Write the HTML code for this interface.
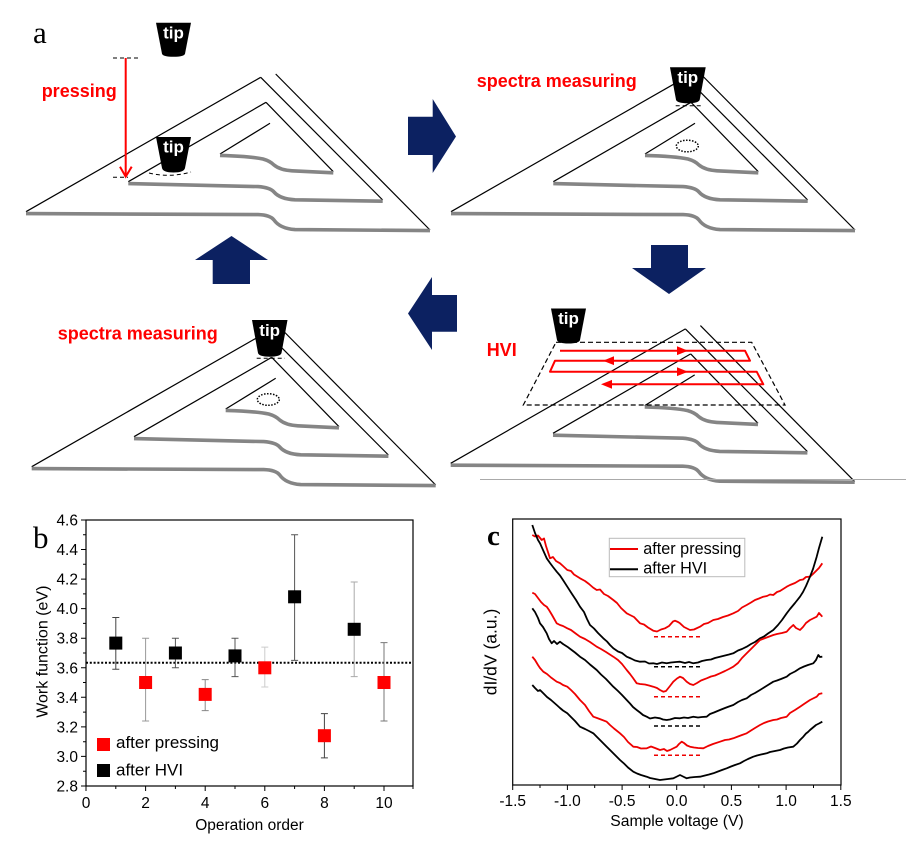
<!DOCTYPE html>
<html><head><meta charset="utf-8"><style>
html,body{margin:0;padding:0;background:#fff;}
svg{display:block;}
text{font-family:"Liberation Sans",Arial,sans-serif;}
.serif{font-family:"Liberation Serif","Times New Roman",serif;}
</style></head><body>
<svg width="906" height="848" viewBox="0 0 906 848" xmlns="http://www.w3.org/2000/svg">
<defs>
<g id="tri">
  <g fill="none" stroke="#000" stroke-width="1.2">
    <path d="M26,211.7 L260.7,77.3"/>
    <path d="M260.7,77.3 L382.7,200"/>
    <path d="M275.7,74 L430,230"/>
    <path d="M128.3,181.7 L266,102.3"/>
    <path d="M266,102.3 L333.3,171.7"/>
    <path d="M220,154 L270,123.3"/>
  </g>
  <g fill="none" stroke="#858585" stroke-width="3.6">
    <path d="M26,213.6 L258,214.6 Q270,215 274,220 Q280,228.5 295,229.6 L430,230.6"/>
    <path d="M128.3,183.6 L258,186.6 Q270,187.5 274,192 Q280,199 295,199.8 L382.7,201.2"/>
    <path d="M220,155.4 Q250,156.2 263,159 Q270,161 274,165 Q280,170 292,170.8 L333.3,172.8"/>
  </g>
</g>
</defs>

<!-- ============ PANEL A ============ -->
<text x="33" y="43" class="serif" font-size="31">a</text>

<!-- panel 1 -->
<use href="#tri"/>
<path d="M156,22.7 L191,22.7 L185,53.7 Q184,56.7 173.5,56.7 Q163,56.7 162,53.7 Z" fill="#000"/>
<text x="173.5" y="38.3" font-size="17" font-weight="bold" fill="#fff" text-anchor="middle">tip</text>
<path d="M113,58 L140,58" stroke="#000" stroke-width="1" stroke-dasharray="4,3"/>
<path d="M125.7,58 L125.7,175" stroke="#f00" stroke-width="2"/>
<path d="M120,166.7 L125.7,176.7 L131.7,166.7" stroke="#f00" stroke-width="2" fill="none"/>
<text x="41.7" y="97" font-size="18" font-weight="bold" fill="#f00">pressing</text>
<path d="M113,177.3 L128,177.3" stroke="#000" stroke-width="1" stroke-dasharray="4,3"/>
<path d="M156,137 L191,137 L185,168 Q184,172.5 173.5,172.5 Q163,172.5 162,168 Z" fill="#000"/>
<text x="173.5" y="152.5" font-size="17" font-weight="bold" fill="#fff" text-anchor="middle">tip</text>
<path d="M149,173 Q170,178 191,172" stroke="#000" stroke-width="1" fill="none" stroke-dasharray="4,3"/>

<!-- arrows -->
<g fill="#0c2161">
  <polygon points="408,116.7 432.7,116.7 432.7,99 456,136.5 432.7,173 432.7,155 408,155"/>
  <polygon points="651,245 688,245 688,268 706,268 669,294 632,268 651,268"/>
  <polygon points="457,295 432,295 432,277 408,313.5 432,350 432,331.7 457,331.7"/>
  <polygon points="231.5,236 268,260 250,260 250,284 212.7,284 212.7,260 195,260"/>
</g>

<!-- panel 2 -->
<use href="#tri" transform="translate(425,0)"/>
<path d="M670,67.3 L705.7,67.3 L699.7,99.8 Q698.7,103.3 687.8,103.3 Q677,103.3 676,99.8 Z" fill="#000"/>
<text x="687.8" y="83" font-size="17" font-weight="bold" fill="#fff" text-anchor="middle">tip</text>
<path d="M675.7,105.7 L703,105.7" stroke="#000" stroke-width="1" stroke-dasharray="4,3"/>
<ellipse cx="687.3" cy="146" rx="11" ry="5.8" fill="none" stroke="#000" stroke-width="1.5" stroke-dasharray="1.5,1.5"/>
<text x="476.7" y="87" font-size="18" font-weight="bold" fill="#f00">spectra measuring</text>

<!-- panel 3 -->
<use href="#tri" transform="translate(5.7,255)"/>
<path d="M252,320 L287.5,320 L281.5,353 Q280.5,356.7 269.7,356.7 Q259,356.7 258,353 Z" fill="#000"/>
<text x="269.7" y="335.8" font-size="17" font-weight="bold" fill="#fff" text-anchor="middle">tip</text>
<path d="M256.7,358.3 L285,358.3" stroke="#000" stroke-width="1" stroke-dasharray="4,3"/>
<ellipse cx="268.3" cy="399.5" rx="11" ry="5.8" fill="none" stroke="#000" stroke-width="1.5" stroke-dasharray="1.5,1.5"/>
<text x="57.7" y="339.5" font-size="18" font-weight="bold" fill="#f00">spectra measuring</text>

<!-- panel 4 -->
<use href="#tri" transform="translate(424.7,251.6)"/>
<path d="M480,479.5 L906,479.5" stroke="#aaa" stroke-width="1"/>
<polygon points="556,342.3 751.7,342.3 785,405 523.3,405" fill="none" stroke="#000" stroke-width="1.2" stroke-dasharray="5,3"/>
<path d="M551,308.5 L586,308.5 L580,340 Q579,343.5 568.5,343.5 Q558,343.5 557,340 Z" fill="#000"/>
<text x="568.5" y="324" font-size="17" font-weight="bold" fill="#fff" text-anchor="middle">tip</text>
<text x="486.7" y="356" font-size="18" font-weight="bold" fill="#f00">HVI</text>
<path d="M560,350.7 L745,350.7 L750,360.7 L555,360.7 L550,371.7 L756.7,371.7 L763.3,384.3 L605,384.3" fill="none" stroke="#f00" stroke-width="2" stroke-linejoin="round"/>
<g fill="#f00">
  <polygon points="677,346.3 688,350.7 677,355.1"/>
  <polygon points="614,356.3 603,360.7 614,365.1"/>
  <polygon points="677,367.3 688,371.7 677,376.1"/>
  <polygon points="612,379.9 601,384.3 612,388.7"/>
</g>

<!-- ============ PANEL B ============ -->
<text x="33" y="548" class="serif" font-size="31">b</text>
<rect x="86" y="520" width="327" height="266" fill="none" stroke="#000" stroke-width="1.2"/>
<g stroke="#000" stroke-width="1">
  <!-- y major ticks -->
  <path d="M81,786H86 M81,756.4H86 M81,726.9H86 M81,697.3H86 M81,667.8H86 M81,638.2H86 M81,608.6H86 M81,579.1H86 M81,549.5H86 M81,520H86"/>
  <!-- y minor -->
  <path d="M83,771.2H86 M83,741.7H86 M83,712.1H86 M83,682.5H86 M83,653H86 M83,623.4H86 M83,593.9H86 M83,564.3H86 M83,534.8H86"/>
  <!-- x major -->
  <path d="M86,786V791 M145.6,786V791 M205.2,786V791 M264.8,786V791 M324.4,786V791 M384,786V791"/>
  <path d="M115.8,786V789 M175.4,786V789 M235,786V789 M294.6,786V789 M354.2,786V789 M413,786V789"/>
</g>
<g font-size="15.5" text-anchor="end" fill="#000">
  <text x="78" y="791.5">2.8</text>
  <text x="78" y="761.9">3.0</text>
  <text x="78" y="732.4">3.2</text>
  <text x="78" y="702.8">3.4</text>
  <text x="78" y="673.3">3.6</text>
  <text x="78" y="643.7">3.8</text>
  <text x="78" y="614.1">4.0</text>
  <text x="78" y="584.6">4.2</text>
  <text x="78" y="555">4.4</text>
  <text x="78" y="525.5">4.6</text>
</g>
<g font-size="15.5" text-anchor="middle" fill="#000">
  <text x="86" y="808">0</text>
  <text x="145.6" y="808">2</text>
  <text x="205.2" y="808">4</text>
  <text x="264.8" y="808">6</text>
  <text x="324.4" y="808">8</text>
  <text x="384" y="808">10</text>
</g>
<text x="249.5" y="830" font-size="15.5" text-anchor="middle">Operation order</text>
<text transform="translate(47.5,651.7) rotate(-90)" font-size="16" text-anchor="middle">Work function (eV)</text>

<!-- dotted reference -->
<path d="M86,662.7 H413" stroke="#000" stroke-width="2" stroke-dasharray="2,1.8"/>

<!-- error bars -->
<g stroke-width="1" fill="none">
  <path stroke="#444" d="M115.8,617.5V669.3 M112.3,617.5H119.3 M112.3,669.3H119.3"/>
  <path stroke="#999" d="M145.6,638.2V721 M142.1,638.2H149.1 M142.1,721H149.1"/>
  <path stroke="#555" d="M175.4,638.2V667.8 M171.9,638.2H178.9 M171.9,667.8H178.9"/>
  <path stroke="#888" d="M205.2,679.6V710.6 M201.7,679.6H208.7 M201.7,710.6H208.7"/>
  <path stroke="#555" d="M235,638.2V676.6 M231.5,638.2H238.5 M231.5,676.6H238.5"/>
  <path stroke="#ccc" d="M264.8,647.1V687 M261.3,647.1H268.3 M261.3,687H268.3"/>
  <path stroke="#555" d="M294.6,534.7V660.4 M291.1,534.7H298.1 M291.1,660.4H298.1"/>
  <path stroke="#444" d="M324.4,713.6V757.9 M320.9,713.6H327.9 M320.9,757.9H327.9"/>
  <path stroke="#aaa" d="M354.2,582V676.6 M350.7,582H357.7 M350.7,676.6H357.7"/>
  <path stroke="#777" d="M384,642.6V721 M380.5,642.6H387.5 M380.5,721H387.5"/>
</g>
<!-- markers -->
<g>
  <rect x="109.3" y="636.6" width="13" height="13" fill="#000"/>
  <rect x="139.1" y="676" width="13" height="13" fill="#f00"/>
  <rect x="168.9" y="646.5" width="13" height="13" fill="#000"/>
  <rect x="198.7" y="687.9" width="13" height="13" fill="#f00"/>
  <rect x="228.5" y="649.4" width="13" height="13" fill="#000"/>
  <rect x="258.3" y="661.3" width="13" height="13" fill="#f00"/>
  <rect x="288.1" y="590.3" width="13" height="13" fill="#000"/>
  <rect x="317.9" y="729.2" width="13" height="13" fill="#f00"/>
  <rect x="347.7" y="622.8" width="13" height="13" fill="#000"/>
  <rect x="377.5" y="676" width="13" height="13" fill="#f00"/>
</g>
<!-- legend b -->
<rect x="97" y="738" width="13" height="13" fill="#f00"/>
<text x="116" y="748" font-size="17">after pressing</text>
<rect x="97" y="764" width="13" height="13" fill="#000"/>
<text x="116" y="775.5" font-size="17">after HVI</text>

<!-- ============ PANEL C ============ -->
<text x="487" y="545" class="serif" font-size="29" font-weight="bold">c</text>
<rect x="512.7" y="519" width="328.3" height="266" fill="none" stroke="#000" stroke-width="1.2"/>
<g stroke="#000" stroke-width="1">
  <path d="M512.7,785V790 M567.4,785V790 M622.1,785V790 M676.7,785V790 M731.4,785V790 M786.1,785V790 M840.8,785V790"/>
  <path d="M540,785V788 M594.7,785V788 M649.4,785V788 M704.1,785V788 M758.8,785V788 M813.5,785V788"/>
</g>
<g font-size="15.5" text-anchor="middle">
  <text x="512.7" y="806">-1.5</text>
  <text x="567.4" y="806">-1.0</text>
  <text x="622.1" y="806">-0.5</text>
  <text x="676.7" y="806">0.0</text>
  <text x="731.4" y="806">0.5</text>
  <text x="786.1" y="806">1.0</text>
  <text x="840.8" y="806">1.5</text>
</g>
<text x="677" y="826" font-size="15.7" text-anchor="middle">Sample voltage (V)</text>
<text transform="translate(496.5,652) rotate(-90)" font-size="17.5" text-anchor="middle">dI/dV (a.u.)</text>

<g fill="none" stroke-width="1.8" stroke-linejoin="round">
<polyline stroke="#e00" points="532.3,535 535,536.5 538,535.5 541.7,540 544,538.5 546,546 550,558.3 553,557 556,561 560,563.3 563,566 567.3,570 571,571 574,574.5 580,578.3 585,581 589,584 593,587.5 596.7,590 600,589.5 604,594 608,596 613.3,600 617,603 621,608 626.7,613.3 630,615 634,617 640,623.3 644,624.5 648,627.5 653.3,630.7 657,631.5 661,629.5 665,628.3 669,626 673,621.5 675,620.7 678,622 680,623.3 684,627 690,630 694,629.5 700,626.7 704,624 708,623 713.3,620 718,619 723,617 728,615.5 733.3,613.3 738,611 742,607.5 746.7,605 751,602.5 755,600 759,598.5 763.3,596.7 767,596 770,594.5 773.3,595 777,592 780,591 786.7,586.7 790,585 795,583 800,580 803,579.5 806,577 810,576.7 813,574 816,571 819,568 822.3,563.3"/>
<polyline stroke="#000" points="532.3,525 535,533 538,540 540,543.3 543,550 546.7,558.3 550,563 553,567 556.7,571.7 560,575.5 563,580 567.3,586.7 572,594 576,600 580,606.7 584,612 587,619 590,625 594,628.5 598,633 603.3,638.3 607,641.5 610,645 613.3,648.3 618,651.5 622,653 626.7,656.7 631,658.5 635,660.5 640,661.7 645,661.5 649,663.5 653.3,663.3 657,664 662,662.5 666.7,663.3 671,662.5 676,662 680,661.7 685,663 689,662 693.3,663.3 698,662.5 702,661 706.7,660 711,659.5 715,658 720,656.7 725,655.5 729,654.5 733.3,653.3 738,650.5 742,649 746.7,646.7 751,644 755,642 760,638.3 764,636.5 768,633.5 773.3,630 778,625 782,620 786.7,613.3 790,609 795,603 800,596.7 803,592 806,586 810,576.7 813,569 816.7,556.7 819,548 822.3,536.7"/>
<polyline stroke="#e00" points="532.3,592.7 535,594 538,598 541,602 544,605 546.7,606.7 549,610 552,615 556.7,623.3 560,625 563,626 567.3,628.3 571,630 575,633 580,636.7 585,639 590,642 596.7,646.7 601,649 606,652 613.3,656.7 618,660 622,664 626.7,670 630,674 633,678 636.7,683.3 640,684 645,684.5 649,685.5 653.3,686.7 657,688 660,690 663.3,691.7 666,691 670,686 673.3,681.7 677,678.5 680,676.7 683,678 686.7,681.7 690,684 693.3,685 697,683 701,680.5 706.7,678.3 711,676.5 715,675.5 720,673.3 725,671 729,669 733.3,666.7 738,663 742,658 746.7,653.3 751,649 755,645 760,640 764,638.5 768,637 773.3,635 777,634 782,633 786.7,631.7 790,628 793.3,625 796,628 800,630 803,627 806,623 810,620 813,618.5 816.7,616.7 819,613 822.3,616.7"/>
<polyline stroke="#000" points="532.3,608.3 535,612 538,618 540,623.3 543,627 546.7,633.3 549,639 551.7,643.3 554,641 557,644 560,641.7 563,644 567.3,646.7 571,649.5 575,652.5 580,656.7 585,660 590,664.5 596.7,670 601,674.5 606,679 613.3,686.7 618,691 622,695 626.7,700 630,703.5 633,707 636.7,710 640,712.5 643,715 646.7,716.7 650,718.5 655,717.5 660,718.3 663,719.5 666.7,720 670,719.5 675,718 680,718.3 684,717.5 688,718 693.3,716.7 698,717.5 702,717 706.7,716.7 710,714 714,712.5 720,710 725,708 729,706.5 733.3,705 738,702 742,700 746.7,698.3 751,695 755,693 760,690 764,687.5 768,685 773.3,681.7 777,680.5 781,679 786.7,676.7 790,674 795,671.5 800,668.3 804,666.5 808,665 813.3,663.3 816,660 818.3,655 820,657 822.3,656.7"/>
<polyline stroke="#e00" points="532.3,656.7 535,660 538,665 540,668 543.3,671.7 547,674 551,677.5 556.7,681.7 560,683 563,685 567.3,686.7 571,690 575,694 580,700 585,705 589,711 593.3,716.7 597,718 601,719.5 606.7,721.7 610,725 614,728.5 620,733.3 624,737 628,742 633.3,746.7 637,747 641,748.5 646.7,748.3 651,746.5 655,748 660,750 664,749 667,751 670,750 673,748.5 676.7,746.7 679,744 681.7,741.7 684,743 687,745.5 690,746.7 694,747.5 698,748 703.3,748.3 708,746 713,744 720,741.7 725,740 729,739.5 733.3,738.3 738,736.5 742,735 746.7,733.3 751,730.5 755,728 760,725 764,723 768,721.5 773.3,720 777,719.5 781,718 786.7,716.7 790,713 795,710 800,706.7 804,704 807,702 810,700 813,698.5 816.7,696.7 819,694 822.3,693.3"/>
<polyline stroke="#000" points="532.3,685 535,688 538,691 540,690 543.3,693.3 547,697 551,700 556.7,705 560,708 563,710.5 567.3,713.3 571,717 575,721 580,726.7 585,729 589,731 593.3,733.3 597,737 601,741 606.7,746.7 610,750 614,754 620,760 624,763.5 628,767.5 633.3,771.7 637,773.5 641,775 646.7,776.7 650,778 655,779 660,780 664,779.5 668,779 673.3,778.3 677,776.5 680,775 683,776.5 686.7,778.3 690,777.5 695,777 700,776.7 705,775.5 709,774.5 713.3,773.3 718,771.5 722,770 726.7,768.3 731,766.5 735,765 740,763.3 744,761 748,759 753.3,756.7 757,755.5 761,754.5 766.7,753.3 770,752 775,751 780,750 784,748.5 788,747.5 793.3,746.7 797,743.5 800,740 803.3,736.7 806,733.5 808,732 810,730 813,727.5 816,725 819,723.5 822.3,721.7"/>
</g>
<!-- dashed baselines -->
<g stroke-width="1.5" stroke-dasharray="4,3">
  <path d="M654,636.7H702" stroke="#e00"/>
  <path d="M654,666.7H702" stroke="#000"/>
  <path d="M654,696.7H702" stroke="#e00"/>
  <path d="M654,726H702" stroke="#000"/>
  <path d="M654,755.3H702" stroke="#e00"/>
</g>
<!-- legend c -->
<rect x="609.3" y="538.3" width="135.5" height="38.4" fill="#fff" stroke="#bbb" stroke-width="1"/>
<path d="M610,549H638" stroke="#e00" stroke-width="2"/>
<path d="M610,569.3H638" stroke="#000" stroke-width="2"/>
<text x="643.3" y="554" font-size="16.2">after pressing</text>
<text x="643.3" y="573.5" font-size="16.2">after HVI</text>
</svg>
</body></html>
